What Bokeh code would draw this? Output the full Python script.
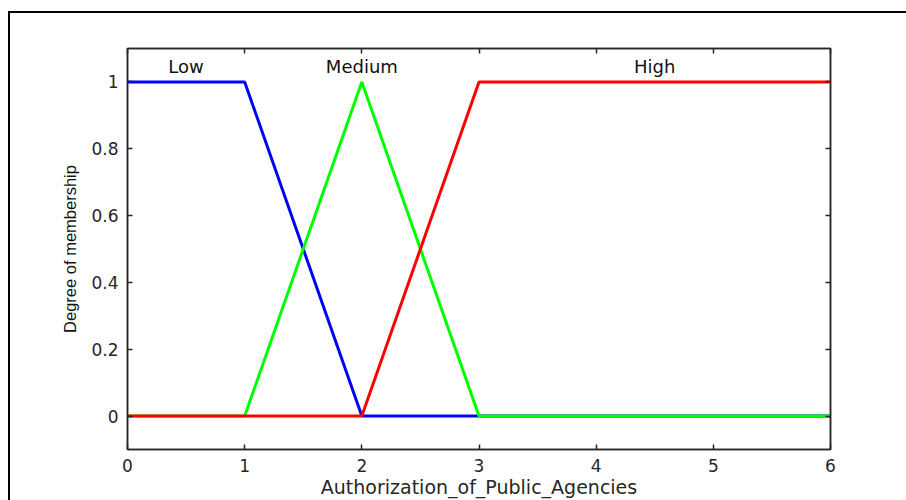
from bokeh.plotting import figure
from bokeh.models import Range1d, LinearAxis, FixedTicker
from bokeh.embed import file_html
from bokeh.resources import INLINE
from bokeh.core.properties import value

# Membership functions
x_low = [0, 1, 2, 6]
y_low = [1, 1, 0, 0]
x_med = [0, 1, 2, 3, 6]
y_med = [0, 0, 1, 0, 0]
x_high = [0, 2, 3, 6]
y_high = [0, 0, 1, 1]

mf_names = ["Low", "Medium", "High"]
mf_label_x = [0.5, 2, 4.5]
mf_label_y = [1.045, 1.045, 1.045]

x_ticks = [0, 1, 2, 3, 4, 5, 6]
y_ticks = [0, 0.2, 0.4, 0.6, 0.8, 1]

AX = "#262626"
FONT = "DejaVu Sans"

p = figure(width=906, height=500, output_backend="svg", toolbar_location=None,
           x_range=Range1d(0, 6), y_range=Range1d(-0.1, 1.1),
           min_border_left=127, min_border_right=76, min_border_top=48, min_border_bottom=51)
p.background_fill_color = "white"
p.border_fill_color = None
p.styles = {"box-shadow": "inset 8px 11px 0 0 white, inset 10px 13px 0 0 black"}
p.xgrid.visible = False
p.ygrid.visible = False
p.outline_line_color = AX
p.outline_line_width = 1.5

p.line(x_low, y_low, line_color="#0000FF", line_width=3)
p.line(x_med, y_med, line_color="#00FF00", line_width=3)
p.line(x_high, y_high, line_color="#FF0000", line_width=3)

p.text(x=mf_label_x, y=mf_label_y, text=mf_names, text_align="center", text_baseline="middle",
       text_font=value(FONT), text_font_size="18px", text_color="#111111")

def style(ax, labels=True):
    ax.axis_line_color = AX
    ax.axis_line_width = 1.5
    ax.major_tick_line_color = AX
    ax.major_tick_line_width = 1.5
    ax.major_tick_in = 5
    ax.major_tick_out = 0
    ax.minor_tick_line_color = None
    ax.major_label_text_font = FONT
    if labels:
        ax.major_label_text_color = AX
        ax.major_label_text_font_size = "17px"
        ax.major_label_standoff = 9
    else:
        ax.major_label_text_color = None
        ax.major_label_text_font_size = "1px"
        ax.major_label_standoff = 0

xa = p.xaxis[0]
xa.ticker = FixedTicker(ticks=x_ticks)
style(xa)
xa.axis_label = "Authorization_of_Public_Agencies"
xa.axis_label_text_font = FONT
xa.axis_label_text_font_size = "19px"
xa.axis_label_text_font_style = "normal"
xa.axis_label_text_color = AX
xa.axis_label_standoff = 1

ya = p.yaxis[0]
ya.ticker = FixedTicker(ticks=y_ticks)
ya.major_label_overrides = {0: "0", 1: "1"}
style(ya)
ya.axis_label = "Degree of membership"
ya.axis_label_text_font = "Liberation Sans"
ya.axis_label_text_font_size = "16.5px"
ya.axis_label_text_font_style = "normal"
ya.axis_label_text_color = "#111111"
ya.axis_label_standoff = 9

top = LinearAxis(ticker=FixedTicker(ticks=x_ticks))
style(top, labels=False)
p.add_layout(top, "above")
right = LinearAxis(ticker=FixedTicker(ticks=y_ticks))
style(right, labels=False)
p.add_layout(right, "right")

open("out.html", "w").write(file_html(p, INLINE))
